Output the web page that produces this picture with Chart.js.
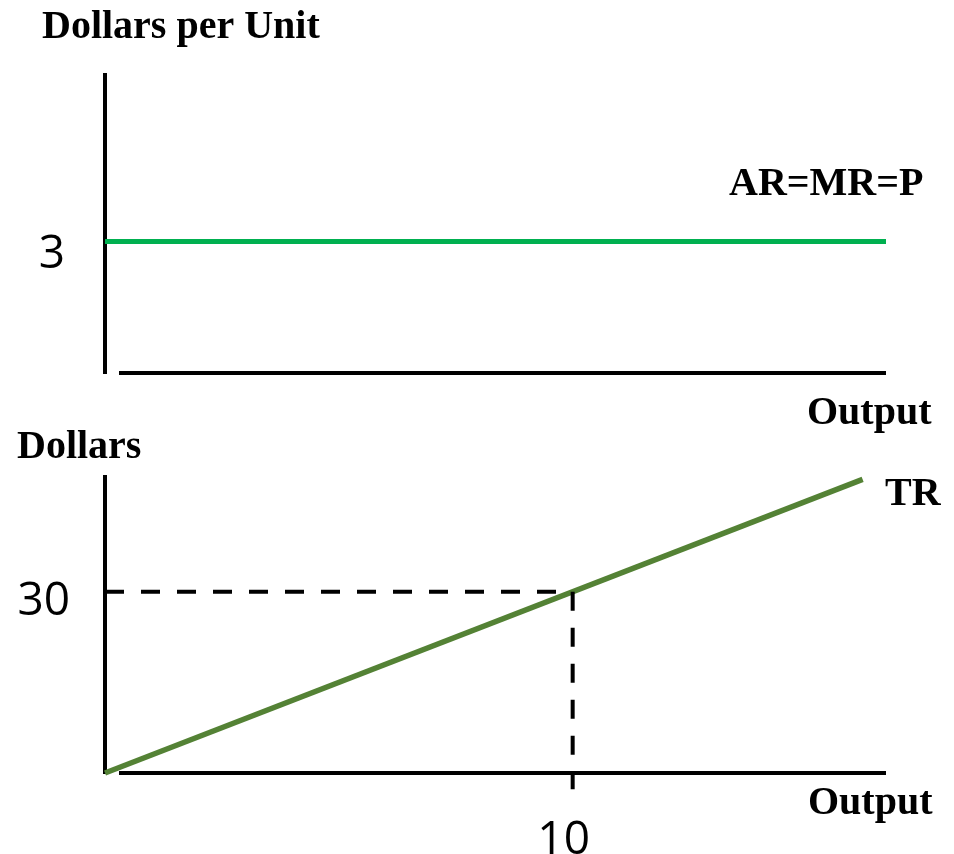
<!DOCTYPE html>
<html>
<head>
<meta charset="utf-8">
<script src="https://cdn.jsdelivr.net/npm/chart.js@4"></script>
<style>
  body { margin: 0; background: #fff; }
  #wrap { position: relative; width: 954px; height: 854px; }
  #wrap canvas { position: absolute; left: 0; top: 0; }
</style>
</head>
<body>
<div id="wrap">
  <canvas id="topChart" width="954" height="854"></canvas>
  <canvas id="bottomChart" width="954" height="854"></canvas>
</div>
<script>
// top panel: average / marginal revenue = price
const arOutput = [0, 16.7];
const arPrice = [3, 3];
const topYTicks = [3];

// bottom panel: total revenue
const trOutput = [0, 16.2];
const trDollars = [0, 48.6];
const guideHX = [0, 10];
const guideHY = [30, 30];
const guideVX = [10, 10];
const guideVY = [30, -2.7];
const bottomYTicks = [30];
const bottomXTicks = [10];

const pts = (xs, ys) => xs.map((x, i) => ({x: x, y: ys[i]}));

// draws bold labels + the x axis line (starts a little right of the y axis, like the original)
const extras = {
  id: 'extras',
  afterDraw(chart, args, opts) {
    const ctx = chart.ctx, a = chart.chartArea;
    ctx.save();
    ctx.strokeStyle = '#000';
    ctx.lineWidth = 4;
    ctx.beginPath();
    ctx.moveTo(a.left + 14, a.bottom);
    ctx.lineTo(a.right, a.bottom);
    ctx.stroke();
    ctx.fillStyle = '#000';
    ctx.font = 'bold 40px "Liberation Serif", "Times New Roman", serif';
    ctx.textBaseline = 'alphabetic';
    opts.labels.forEach(l => ctx.fillText(l.text, l.x, l.y));
    ctx.restore();
  }
};

const tickFont = {family: '"Open Sans", sans-serif', size: 46};

function baseOpts(ymax, yTicks, yPad, yShift, xTicks, pad) {
  return {
    responsive: false,
    animation: false,
    devicePixelRatio: 1,
    layout: {padding: pad},
    plugins: {legend: {display: false}, tooltip: {enabled: false}},
    elements: {point: {radius: 0}},
    scales: {
      x: {
        type: 'linear', min: 0, max: 16.7,
        grid: {display: false, drawTicks: false},
        border: {display: false},
        afterBuildTicks: s => { s.ticks = xTicks.map(v => ({value: v})); },
        afterFit: s => { s.height = xTicks.length ? 81 : 0; },
        ticks: {display: xTicks.length > 0, color: '#000', font: tickFont, padding: 40, labelOffset: -9, maxRotation: 0}
      },
      y: {
        type: 'linear', min: 0, max: ymax,
        grid: {display: false, drawTicks: false},
        border: {display: true, color: '#000', width: 4},
        afterBuildTicks: s => { s.ticks = yTicks.map(v => ({value: v})); },
        afterFit: s => { s.width = 105; },
        ticks: {color: '#000', font: tickFont, padding: yPad, labelOffset: yShift}
      }
    }
  };
}

const topOpts = baseOpts(6.8, topYTicks, 40, 13, [], {top: 75, right: 68, bottom: 481, left: 0});
topOpts.plugins.extras = {labels: [
  {text: 'Dollars per Unit', x: 42, y: 38},
  {text: 'AR=MR=P', x: 729, y: 195},
  {text: 'Output', x: 807, y: 424}
]};

new Chart(document.getElementById('topChart'), {
  type: 'line',
  data: {datasets: [{
    data: pts(arOutput, arPrice),
    borderColor: '#00B050', borderWidth: 5, clip: false
  }]},
  options: topOpts,
  plugins: [extras]
});

const botOpts = baseOpts(49, bottomYTicks, 35, 10, bottomXTicks, {top: 477, right: 68, bottom: 0, left: 0});
botOpts.plugins.extras = {labels: [
  {text: 'Dollars', x: 17, y: 458},
  {text: 'TR', x: 885, y: 505},
  {text: 'Output', x: 808, y: 814}
]};

new Chart(document.getElementById('bottomChart'), {
  type: 'line',
  data: {datasets: [
    {data: pts(guideHX, guideHY), borderColor: '#000', borderWidth: 4, borderDash: [19, 17], clip: false},
    {data: pts(guideVX, guideVY), borderColor: '#000', borderWidth: 4, borderDash: [19, 17], clip: false},
    {data: pts(trOutput, trDollars), borderColor: '#548235', borderWidth: 5.5, clip: false}
  ]},
  options: botOpts,
  plugins: [extras]
});
</script>
</body>
</html>
